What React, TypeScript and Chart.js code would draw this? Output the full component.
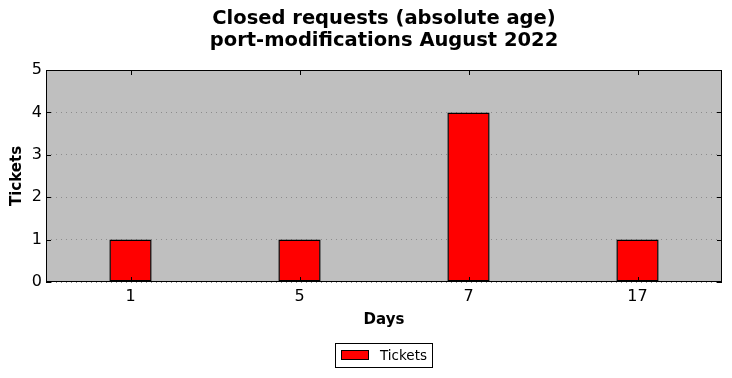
import React, { useEffect, useRef } from "react";
import { Chart, registerables } from "chart.js";

Chart.register(...registerables);

const titleLines = ["Closed requests (absolute age)", "port-modifications August 2022"];
const categories = ["1", "5", "7", "17"];
const seriesName = "Tickets";
const values = [1, 1, 4, 1];
const yTicks = [0, 1, 2, 3, 4, 5];
const xAxisTitle = "Days";
const yAxisTitle = "Tickets";

const FONT = "'DejaVu Sans', sans-serif";

const decorPlugin = {
  id: "decor",
  beforeDraw(chart: any) {
    const { ctx, chartArea } = chart;
    ctx.save();
    ctx.fillStyle = "#bfbfbf";
    ctx.fillRect(chartArea.left, chartArea.top, chartArea.right - chartArea.left, chartArea.bottom - chartArea.top);
    ctx.restore();
  },
  afterDraw(chart: any) {
    const { ctx, chartArea } = chart;
    const { left, right, top, bottom } = chartArea;
    const xs = chart.scales.x;
    const ys = chart.scales.y;
    ctx.save();
    ctx.strokeStyle = "#000";
    ctx.lineWidth = 1;
    ctx.strokeRect(left + 0.5, top + 0.5, right - left - 1, bottom - top - 1);
    ctx.beginPath();
    const tl = 5;
    categories.forEach((_, i) => {
      const x = Math.round(xs.getPixelForValue(i)) + 0.5;
      ctx.moveTo(x, top);
      ctx.lineTo(x, top + tl);
      ctx.moveTo(x, bottom);
      ctx.lineTo(x, bottom - tl);
    });
    yTicks.forEach((v) => {
      const y = Math.round(ys.getPixelForValue(v)) + 0.5;
      ctx.moveTo(left, y);
      ctx.lineTo(left + tl, y);
      ctx.moveTo(right, y);
      ctx.lineTo(right - tl, y);
    });
    ctx.stroke();

    const cx = (left + right) / 2;
    ctx.fillStyle = "#000";
    ctx.textAlign = "center";
    ctx.textBaseline = "middle";
    ctx.font = `bold 19.5px ${FONT}`;
    titleLines.forEach((t, i) => ctx.fillText(t, cx, 19 + i * 22));

    ctx.font = `bold 15px ${FONT}`;
    ctx.fillText(xAxisTitle, cx, 320);
    ctx.save();
    ctx.translate(17, (top + bottom) / 2);
    ctx.rotate(-Math.PI / 2);
    ctx.fillText(yAxisTitle, 0, 0);
    ctx.restore();

    ctx.font = `13.5px ${FONT}`;
    const lx = 335, ly = 343, lw = 98, lh = 25;
    ctx.fillStyle = "#fff";
    ctx.fillRect(lx, ly, lw, lh);
    ctx.strokeStyle = "#000";
    ctx.strokeRect(lx + 0.5, ly + 0.5, lw - 1, lh - 1);
    ctx.fillStyle = "#ff0000";
    ctx.fillRect(341, 350, 28, 10);
    ctx.strokeRect(341.5, 350.5, 27, 9);
    ctx.fillStyle = "#000";
    ctx.textAlign = "left";
    ctx.fillText(seriesName, 380, 356);
    ctx.restore();
  },
};

export default function App() {
  const ref = useRef<HTMLCanvasElement>(null);
  useEffect(() => {
    if (!ref.current) return;
    const chart = new Chart(ref.current, {
      type: "bar",
      data: {
        labels: categories,
        datasets: [
          {
            label: seriesName,
            data: values,
            backgroundColor: "#ff0000",
            borderColor: "#000000",
            borderWidth: 1.5,
            borderSkipped: false,
            categoryPercentage: 1,
            barPercentage: 0.25,
          },
        ],
      },
      options: {
        responsive: false,
        maintainAspectRatio: false,
        animation: false,
        layout: { padding: { top: 70, left: 0, right: 10, bottom: 0 } },
        plugins: {
          legend: { display: false },
          title: { display: false },
          tooltip: { enabled: false },
        },
        scales: {
          x: {
            grid: { display: false, drawTicks: false },
            border: { display: false },
            ticks: { color: "#000", font: { family: FONT, size: 16 }, padding: 5, maxRotation: 0 },
            afterFit: (s: any) => { s.height = 96; },
          },
          y: {
            min: 0,
            max: 5,
            grid: { color: "#8c8c8c", drawTicks: false, lineWidth: 1 },
            border: { display: false, dash: [1, 4] },
            ticks: { stepSize: 1, color: "#000", font: { family: FONT, size: 16 }, padding: 4 },
            afterFit: (s: any) => { s.width = 46; },
          },
        },
      },
      plugins: [decorPlugin],
    });
    return () => chart.destroy();
  }, []);
  return (
    <div style={{ position: "absolute", left: 0, top: 0, width: 732, height: 378, background: "#fff" }}>
      <canvas ref={ref} width={732} height={378} style={{ width: 732, height: 378 }} />
    </div>
  );
}
